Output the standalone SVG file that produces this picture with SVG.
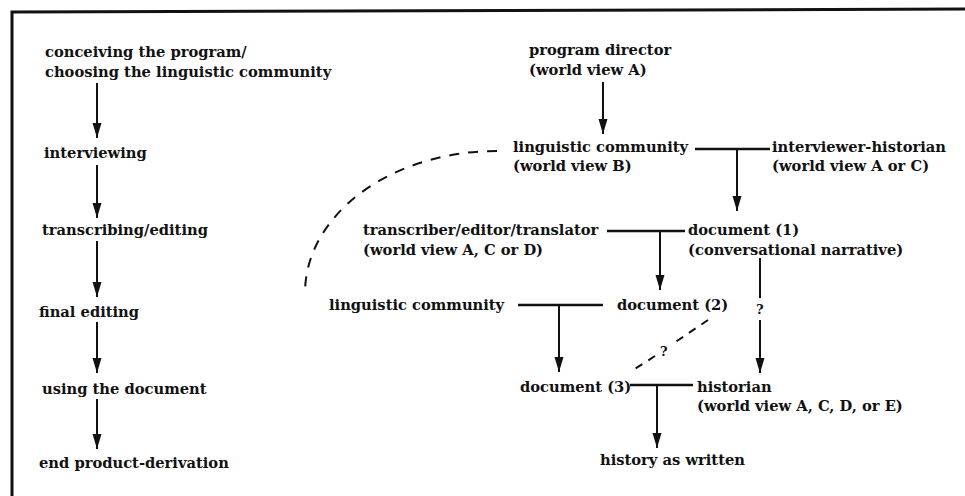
<svg xmlns="http://www.w3.org/2000/svg" width="965" height="496" viewBox="0 0 965 496">
<style>
text{font-family:"DejaVu Serif","Liberation Serif",serif;font-weight:bold;font-size:14.7px;fill:#111}
.q{font-size:13px}
.c line,.c path{stroke:#111;stroke-width:2;fill:none}
.c .t{stroke-width:2.6}
.c .d{stroke-dasharray:10 9}
.c .d2{stroke-dasharray:8 7}
.frame{stroke:#111;stroke-width:3;fill:none}
</style>
<defs>
<marker id="ah" markerUnits="userSpaceOnUse" markerWidth="16" markerHeight="10" viewBox="0 -5 16 10" refX="15" refY="0" orient="auto">
<path d="M0,-4.5 L15,0 L0,4.5 z" fill="#111"/>
</marker>
</defs>
<rect width="965" height="496" fill="#fff"/>
<path class="frame" d="M12,496 L12,12 L965,9"/>

<g class="c" id="connectors">
<line x1="97" y1="83" x2="97" y2="138" marker-end="url(#ah)"/>
<line x1="97" y1="165" x2="97" y2="218" marker-end="url(#ah)"/>
<line x1="97" y1="241" x2="97" y2="297" marker-end="url(#ah)"/>
<line x1="97" y1="322" x2="97" y2="373" marker-end="url(#ah)"/>
<line x1="97" y1="399" x2="97" y2="449" marker-end="url(#ah)"/>
<line x1="603" y1="82" x2="603" y2="134" marker-end="url(#ah)"/>
<line class="t" x1="695" y1="149" x2="770" y2="149"/>
<line x1="737" y1="149" x2="737" y2="211" marker-end="url(#ah)"/>
<line class="t" x1="607" y1="231" x2="685" y2="231"/>
<line x1="660" y1="231" x2="660" y2="290" marker-end="url(#ah)"/>
<line class="t" x1="518" y1="305" x2="603" y2="305"/>
<line x1="559" y1="305" x2="559" y2="372" marker-end="url(#ah)"/>
<line class="t" x1="630" y1="385" x2="693" y2="385"/>
<line x1="657" y1="385" x2="657" y2="448" marker-end="url(#ah)"/>
<line x1="760" y1="258" x2="760" y2="298"/>
<line x1="760" y1="320" x2="760" y2="373" marker-end="url(#ah)"/>
<path class="d" d="M497,151 A192,142 0 0,0 305,293"/>
<path class="d2" d="M708,320 L674,343"/>
<path class="d2" d="M655,356 L630,372"/>
</g>

<g id="n-conceiving"><text x="45" y="57">conceiving the program/</text><text x="45" y="77">choosing the linguistic community</text></g>
<g id="n-interviewing"><text x="44" y="158">interviewing</text></g>
<g id="n-transcribing"><text x="42" y="235">transcribing/editing</text></g>
<g id="n-final"><text x="39" y="317">final editing</text></g>
<g id="n-using"><text x="42" y="394">using the document</text></g>
<g id="n-end"><text x="39" y="468">end product-derivation</text></g>

<g id="n-director"><text x="529" y="55">program director</text><text x="529" y="75">(world view A)</text></g>
<g id="n-community1"><text x="513" y="152">linguistic community</text><text x="513" y="171">(world view B)</text></g>
<g id="n-interviewer"><text x="772" y="152">interviewer-historian</text><text x="772" y="171">(world view A or C)</text></g>
<g id="n-transcriber"><text x="363" y="235">transcriber/editor/translator</text><text x="363" y="255">(world view A, C or D)</text></g>
<g id="n-doc1"><text x="688" y="235">document (1)</text><text x="688" y="255">(conversational narrative)</text></g>
<g id="n-community2"><text x="329" y="310">linguistic community</text></g>
<g id="n-doc2"><text x="617" y="310">document (2)</text></g>
<g id="n-q1"><text class="q" x="756" y="314">?</text></g>
<g id="n-q2"><text class="q" x="660" y="356">?</text></g>
<g id="n-doc3"><text x="520" y="392">document (3)</text></g>
<g id="n-historian"><text x="697" y="392">historian</text><text x="697" y="411">(world view A, C, D, or E)</text></g>
<g id="n-history"><text x="600" y="465">history as written</text></g>
</svg>
